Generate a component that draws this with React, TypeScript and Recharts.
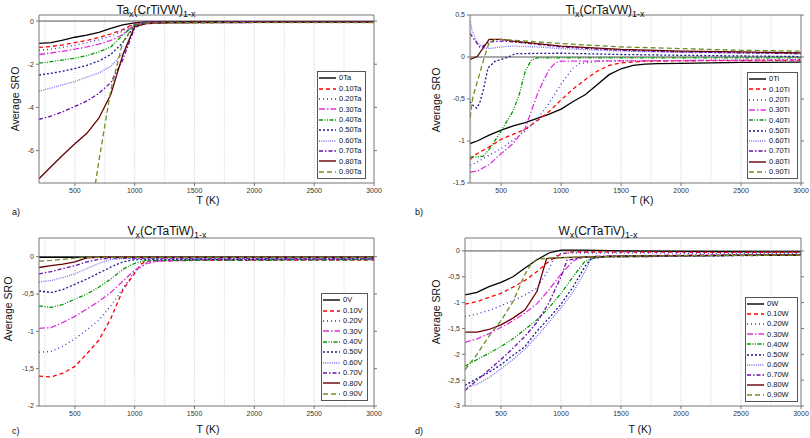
import { LineChart, Line, XAxis, YAxis, ReferenceLine } from "recharts";

type Pt = [number, number];

const FRACTIONS = ["0", "0.10", "0.20", "0.30", "0.40", "0.50", "0.60", "0.70", "0.80", "0.90"];
const COLORS = ["#000000", "#ff0000", "#3333cc", "#dd33dd", "#009900", "#1a1a8c", "#7b68ee", "#6a0dad", "#660000", "#6b8e23"];
const DASHES = ["", "4 3", "1 3", "6 2 1.5 2", "4 1.5 1 1.5 1 1.5", "2 2", "1 1.2", "4 2 1.5 2", "", "5 3"];

const T_TICKS = [500, 1000, 1500, 2000, 2500, 3000];
const GRID_MAJOR = [500, 1000, 1500, 2000, 2500];
const GRID_MINOR = [250, 750, 1250, 1750, 2250, 2750];

// a) Ta_x(CrTiVW)_1-x
const ta0: Pt[] = [[200, -1.03], [300, -1.0], [400, -0.88], [500, -0.75], [600, -0.65], [700, -0.52], [800, -0.34], [900, -0.18], [1000, -0.08], [1100, -0.04], [1500, -0.03], [3000, -0.03]];
const ta10: Pt[] = [[200, -1.22], [300, -1.18], [400, -1.1], [500, -1.0], [600, -0.9], [700, -0.76], [800, -0.6], [900, -0.4], [1000, -0.1], [1100, -0.05], [3000, -0.04]];
const ta20: Pt[] = [[200, -1.35], [300, -1.3], [400, -1.22], [500, -1.12], [600, -1.0], [700, -0.87], [800, -0.7], [900, -0.47], [1000, -0.12], [1100, -0.05], [3000, -0.04]];
const ta30: Pt[] = [[200, -1.55], [300, -1.48], [400, -1.4], [500, -1.3], [600, -1.2], [700, -1.07], [800, -0.9], [900, -0.62], [1000, -0.15], [1100, -0.06], [3000, -0.05]];
const ta40: Pt[] = [[200, -1.95], [300, -1.88], [400, -1.8], [500, -1.72], [600, -1.6], [700, -1.43], [800, -1.2], [900, -0.65], [1000, -0.18], [1100, -0.07], [3000, -0.05]];
const ta50: Pt[] = [[200, -2.5], [300, -2.42], [400, -2.32], [500, -2.2], [600, -2.05], [700, -1.85], [800, -1.55], [900, -1.0], [1000, -0.2], [1100, -0.07], [3000, -0.05]];
const ta60: Pt[] = [[200, -3.25], [300, -3.1], [400, -2.95], [500, -2.8], [600, -2.6], [700, -2.4], [800, -2.1], [900, -1.5], [1000, -0.25], [1100, -0.08], [3000, -0.05]];
const ta70: Pt[] = [[200, -4.55], [300, -4.4], [400, -4.2], [500, -3.95], [600, -3.7], [700, -3.35], [800, -2.85], [900, -1.8], [1000, -0.3], [1100, -0.08], [3000, -0.05]];
const ta80: Pt[] = [[200, -7.3], [300, -6.75], [400, -6.2], [500, -5.68], [600, -5.2], [700, -4.5], [800, -3.4], [900, -1.58], [1000, -0.25], [1100, -0.12], [1300, -0.07], [3000, -0.05]];
const ta90: Pt[] = [[600, -10.1], [700, -6.5], [800, -3.2], [900, -0.98], [1000, -0.15], [1100, -0.1], [1300, -0.08], [3000, -0.07]];

// b) Ti_x(CrTaVW)_1-x
const ti0: Pt[] = [[240, -1.03], [300, -1.0], [400, -0.93], [500, -0.87], [600, -0.82], [700, -0.78], [800, -0.73], [900, -0.68], [1000, -0.62], [1100, -0.53], [1200, -0.45], [1300, -0.33], [1400, -0.21], [1500, -0.14], [1600, -0.1], [1700, -0.085], [1800, -0.08], [2000, -0.075], [2500, -0.065], [3000, -0.06]];
const ti10: Pt[] = [[240, -1.22], [300, -1.15], [400, -1.07], [500, -0.98], [600, -0.92], [700, -0.86], [800, -0.76], [900, -0.65], [1000, -0.51], [1100, -0.38], [1200, -0.27], [1300, -0.17], [1400, -0.1], [1500, -0.07], [1700, -0.05], [2000, -0.045], [3000, -0.04]];
const ti20: Pt[] = [[240, -1.29], [300, -1.25], [400, -1.17], [500, -1.09], [600, -0.99], [700, -0.88], [800, -0.74], [900, -0.55], [1000, -0.32], [1100, -0.13], [1150, -0.08], [1300, -0.05], [3000, -0.03]];
const ti30: Pt[] = [[240, -1.37], [300, -1.36], [400, -1.28], [500, -1.15], [600, -1.03], [700, -0.85], [750, -0.65], [800, -0.45], [850, -0.29], [900, -0.15], [950, -0.07], [1000, -0.05], [3000, -0.035]];
const ti40: Pt[] = [[240, -1.19], [300, -1.19], [350, -1.18], [400, -1.1], [500, -0.88], [600, -0.64], [650, -0.45], [700, -0.17], [750, -0.04], [800, -0.01], [3000, -0.01]];
const ti50: Pt[] = [[240, -0.53], [260, -0.57], [295, -0.61], [320, -0.55], [350, -0.4], [390, -0.13], [450, -0.05], [500, -0.03], [560, 0.0], [620, 0.04], [1000, 0.045], [1500, 0.03], [2000, 0.02], [3000, 0.005]];
const ti60: Pt[] = [[240, 0.42], [260, 0.3], [300, 0.17], [350, 0.11], [400, 0.1], [500, 0.12], [600, 0.13], [800, 0.12], [1000, 0.1], [1500, 0.07], [2000, 0.055], [3000, 0.04]];
const ti70: Pt[] = [[240, 0.28], [280, 0.2], [320, 0.12], [350, 0.13], [400, 0.18], [500, 0.19], [600, 0.18], [800, 0.15], [1000, 0.12], [1500, 0.08], [2000, 0.06], [3000, 0.04]];
const ti80: Pt[] = [[240, -0.03], [300, 0.005], [400, 0.21], [500, 0.21], [600, 0.19], [800, 0.16], [1000, 0.13], [1500, 0.09], [2000, 0.07], [2500, 0.06], [3000, 0.05]];
const ti90: Pt[] = [[240, -0.72], [265, -0.47], [300, -0.3], [330, -0.15], [360, 0.0], [400, 0.17], [450, 0.21], [500, 0.21], [600, 0.2], [800, 0.18], [1000, 0.16], [1500, 0.12], [2000, 0.1], [2500, 0.08], [3000, 0.07]];

// c) V_x(CrTaTiW)_1-x
const v0: Pt[] = [[200, -0.01], [3000, -0.01]];
const v10: Pt[] = [[200, -1.6], [300, -1.61], [400, -1.56], [500, -1.47], [600, -1.3], [700, -1.12], [800, -0.83], [900, -0.45], [1000, -0.22], [1050, -0.1], [1100, -0.06], [1500, -0.05], [3000, -0.045]];
const v20: Pt[] = [[200, -1.28], [300, -1.27], [400, -1.2], [500, -1.1], [600, -0.98], [700, -0.85], [800, -0.66], [900, -0.43], [1000, -0.2], [1100, -0.08], [1200, -0.05], [3000, -0.04]];
const v30: Pt[] = [[200, -0.96], [300, -0.95], [400, -0.88], [500, -0.8], [600, -0.7], [700, -0.6], [800, -0.48], [900, -0.33], [1000, -0.18], [1100, -0.09], [1200, -0.06], [1500, -0.04], [3000, -0.035]];
const v40: Pt[] = [[200, -0.66], [300, -0.68], [400, -0.64], [500, -0.57], [600, -0.5], [700, -0.41], [800, -0.3], [900, -0.17], [1000, -0.09], [1100, -0.05], [3000, -0.04]];
const v50: Pt[] = [[200, -0.46], [300, -0.48], [400, -0.44], [500, -0.37], [600, -0.3], [700, -0.22], [800, -0.14], [900, -0.07], [1000, -0.04], [3000, -0.03]];
const v60: Pt[] = [[200, -0.34], [300, -0.32], [400, -0.28], [500, -0.23], [600, -0.16], [700, -0.09], [800, -0.04], [900, -0.025], [3000, -0.02]];
const v70: Pt[] = [[200, -0.23], [300, -0.2], [400, -0.16], [500, -0.12], [600, -0.07], [700, -0.035], [800, -0.02], [3000, -0.02]];
const v80: Pt[] = [[200, -0.145], [300, -0.12], [400, -0.1], [500, -0.07], [600, -0.015], [700, -0.01], [3000, -0.01]];
const v90: Pt[] = [[200, -0.06], [300, -0.05], [400, -0.035], [500, -0.02], [600, -0.01], [3000, -0.01]];

// d) W_x(CrTaTiV)_1-x
const w0: Pt[] = [[200, -0.85], [300, -0.8], [400, -0.69], [500, -0.61], [600, -0.5], [700, -0.33], [800, -0.17], [900, -0.04], [1000, 0.015], [1200, 0.015], [1500, 0.0], [2000, -0.01], [3000, -0.02]];
const w10: Pt[] = [[200, -1.03], [300, -0.98], [400, -0.9], [500, -0.82], [600, -0.7], [700, -0.57], [800, -0.4], [900, -0.2], [1000, -0.06], [1100, -0.02], [3000, -0.03]];
const w20: Pt[] = [[200, -1.27], [300, -1.22], [400, -1.15], [500, -1.06], [600, -0.96], [700, -0.85], [800, -0.72], [900, -0.35], [950, -0.1], [1000, -0.05], [1100, -0.04], [3000, -0.05]];
const w30: Pt[] = [[200, -1.77], [300, -1.7], [400, -1.6], [500, -1.48], [600, -1.35], [700, -1.2], [800, -1.02], [900, -0.75], [1000, -0.45], [1100, -0.2], [1150, -0.13], [1300, -0.1], [2000, -0.08], [3000, -0.07]];
const w40: Pt[] = [[200, -2.23], [300, -2.1], [400, -1.98], [500, -1.85], [600, -1.7], [700, -1.52], [800, -1.33], [900, -1.1], [1000, -0.82], [1100, -0.5], [1200, -0.2], [1300, -0.12], [3000, -0.07]];
const w50: Pt[] = [[200, -2.6], [300, -2.47], [400, -2.35], [500, -2.2], [600, -2.02], [700, -1.85], [800, -1.55], [900, -1.3], [1000, -1.03], [1100, -0.7], [1200, -0.3], [1250, -0.15], [1400, -0.1], [3000, -0.08]];
const w60: Pt[] = [[200, -2.65], [300, -2.58], [400, -2.45], [500, -2.28], [600, -2.1], [700, -1.9], [800, -1.65], [900, -1.38], [1000, -1.1], [1100, -0.8], [1200, -0.4], [1250, -0.15], [1400, -0.1], [3000, -0.08]];
const w70: Pt[] = [[200, -2.7], [300, -2.5], [400, -2.3], [500, -2.1], [600, -1.88], [700, -1.65], [800, -1.38], [900, -1.0], [1000, -0.5], [1050, -0.18], [1200, -0.12], [3000, -0.08]];
const w80: Pt[] = [[200, -1.57], [300, -1.57], [400, -1.52], [500, -1.43], [600, -1.3], [700, -1.14], [800, -0.78], [880, -0.15], [1000, -0.13], [1500, -0.1], [2000, -0.09], [3000, -0.08]];
const w90: Pt[] = [[200, -2.3], [300, -2.0], [400, -1.65], [500, -1.35], [600, -0.98], [700, -0.45], [750, -0.25], [800, -0.16], [900, -0.14], [1000, -0.13], [1500, -0.1], [3000, -0.08]];

const FONT = "'Liberation Sans', Arial, sans-serif";
const comma = (v: number) => String(v).replace(".", ",");
const blank = () => "";

interface PanelProps {
  x: number; y: number;
  plot: { l: number; t: number; r: number; b: number };
  xMin: number;
  yDomain: [number, number];
  yTicks: number[];
  series: Pt[][];
  el: string; rest: string; suffix: string; letter: string;
  titleX: number; titleY: number;
  yLabelX: number; yLabelY: number;
  xLabelX: number; xLabelY: number;
  letterX: number; letterY: number;
  legend: { x: number; y: number; w: number; h: number };
}

function Panel(p: PanelProps) {
  const W = 405, H = 219;
  const axisStroke = "#777";
  const tickStyle = { fontSize: 7, fill: "#333", fontFamily: FONT };
  return (
    <div style={{ position: "absolute", left: p.x, top: p.y, width: W, height: H }}>
      <LineChart width={W} height={H} margin={{ top: p.plot.t - 4, right: W - p.plot.r - 4, bottom: H - p.plot.b - 20, left: 0 }}>
        <XAxis dataKey="T" type="number" domain={[p.xMin, 3000]} ticks={T_TICKS} interval={0} allowDataOverflow height={20} tickSize={3} tick={tickStyle} stroke={axisStroke} />
        <XAxis xAxisId="top" orientation="top" type="number" domain={[p.xMin, 3000]} ticks={T_TICKS} interval={0} allowDataOverflow height={4} tickSize={3} tickFormatter={blank} stroke={axisStroke} />
        <YAxis type="number" domain={p.yDomain} ticks={p.yTicks} interval={0} allowDataOverflow width={p.plot.l} tickSize={3} tick={tickStyle} tickFormatter={comma} stroke={axisStroke} />
        <YAxis yAxisId="right" orientation="right" type="number" domain={p.yDomain} ticks={p.yTicks} interval={0} allowDataOverflow width={4} tickSize={3} tickFormatter={blank} stroke={axisStroke} />
        {GRID_MINOR.map((g) => (
          <ReferenceLine key={"m" + g} x={g} stroke="#d2d2d2" strokeDasharray="1 1.5" />
        ))}
        {GRID_MAJOR.map((g) => (
          <ReferenceLine key={"M" + g} x={g} stroke="#c6c9e4" strokeDasharray="1 1.5" />
        ))}
        <ReferenceLine y={0} stroke="#555" strokeWidth={1} />
        {p.series.map((s, i) => (
          <Line
            key={i}
            data={s.map(([T, v]) => ({ T, v }))}
            dataKey="v"
            type="linear"
            stroke={COLORS[i]}
            strokeWidth={1.3}
            strokeDasharray={DASHES[i] || undefined}
            dot={false}
            isAnimationActive={false}
          />
        ))}
      </LineChart>
      <div style={{ position: "absolute", left: p.titleX - 100, top: p.titleY - 8, width: 200, textAlign: "center", fontSize: 12, lineHeight: "16px", color: "#111", whiteSpace: "nowrap" }}>
        {p.el}<sub style={{ fontSize: 9 }}>x</sub>({p.rest})<sub style={{ fontSize: 9 }}>1-x</sub>
      </div>
      <div style={{ position: "absolute", left: p.yLabelX, top: p.yLabelY, transform: "translate(-50%, -50%) rotate(-90deg)", fontSize: 10.5, color: "#111", whiteSpace: "nowrap" }}>
        Average SRO
      </div>
      <div style={{ position: "absolute", left: p.xLabelX, top: p.xLabelY, transform: "translate(-50%, -50%)", fontSize: 10.5, color: "#111", whiteSpace: "nowrap" }}>
        T (K)
      </div>
      <div style={{ position: "absolute", left: p.letterX, top: p.letterY, transform: "translateY(-50%)", fontSize: 9, color: "#111" }}>
        {p.letter}
      </div>
      <div style={{ position: "absolute", left: p.legend.x, top: p.legend.y, width: p.legend.w, height: p.legend.h, border: "1px solid #555", background: "#fff", boxSizing: "border-box", padding: "1px 1px" }}>
        {FRACTIONS.map((f, i) => (
          <div key={f} style={{ display: "flex", alignItems: "center", height: (p.legend.h - 4) / 10 }}>
            <svg width={17} height={6} style={{ flex: "none" }}>
              <line x1={0} y1={3} x2={17} y2={3} stroke={COLORS[i]} strokeWidth={1.4} strokeDasharray={DASHES[i] || undefined} />
            </svg>
            <span style={{ marginLeft: 3, fontSize: 7.5, lineHeight: 1, color: "#111", whiteSpace: "nowrap" }}>
              {f}{p.suffix}
            </span>
          </div>
        ))}
      </div>
    </div>
  );
}

export default function App() {
  return (
    <div style={{ position: "absolute", left: 0, top: 0, width: 810, height: 438, background: "#fff", fontFamily: FONT, overflow: "hidden" }}>
      <Panel
        x={0} y={0} plot={{ l: 39, t: 15, r: 374, b: 183 }} xMin={200}
        yDomain={[-7.5, 0.28]} yTicks={[-6, -4, -2, 0]}
        series={[ta0, ta10, ta20, ta30, ta40, ta50, ta60, ta70, ta80, ta90]}
        el="Ta" rest="CrTiVW" suffix="Ta" letter="a)"
        titleX={156} titleY={10} yLabelX={15} yLabelY={99} xLabelX={208} xLabelY={200}
        letterX={12} letterY={212} legend={{ x: 317, y: 71, w: 49, h: 108 }}
      />
      <Panel
        x={405} y={0} plot={{ l: 65, t: 15, r: 396, b: 183 }} xMin={240}
        yDomain={[-1.5, 0.5]} yTicks={[-1.5, -1, -0.5, 0, 0.5]}
        series={[ti0, ti10, ti20, ti30, ti40, ti50, ti60, ti70, ti80, ti90]}
        el="Ti" rest="CrTaVW" suffix="Ti" letter="b)"
        titleX={200} titleY={10} yLabelX={31} yLabelY={100} xLabelX={237} xLabelY={200}
        letterX={10} letterY={212} legend={{ x: 342, y: 72, w: 51, h: 107 }}
      />
      <Panel
        x={0} y={219} plot={{ l: 39, t: 19, r: 374, b: 187 }} xMin={200}
        yDomain={[-2, 0.25]} yTicks={[-2, -1.5, -1, -0.5, 0]}
        series={[v0, v10, v20, v30, v40, v50, v60, v70, v80, v90]}
        el="V" rest="CrTaTiW" suffix="V" letter="c)"
        titleX={167} titleY={12} yLabelX={8} yLabelY={90} xLabelX={208} xLabelY={210}
        letterX={12} letterY={212} legend={{ x: 321, y: 74, w: 47, h: 108 }}
      />
      <Panel
        x={405} y={219} plot={{ l: 60, t: 19, r: 396, b: 187 }} xMin={200}
        yDomain={[-3, 0.25]} yTicks={[-3, -2.5, -2, -1.5, -1, -0.5, 0]}
        series={[w0, w10, w20, w30, w40, w50, w60, w70, w80, w90]}
        el="W" rest="CrTaTiV" suffix="W" letter="d)"
        titleX={193} titleY={12} yLabelX={31} yLabelY={93} xLabelX={235} xLabelY={210}
        letterX={10} letterY={212} legend={{ x: 340, y: 78, w: 53, h: 105 }}
      />
    </div>
  );
}
